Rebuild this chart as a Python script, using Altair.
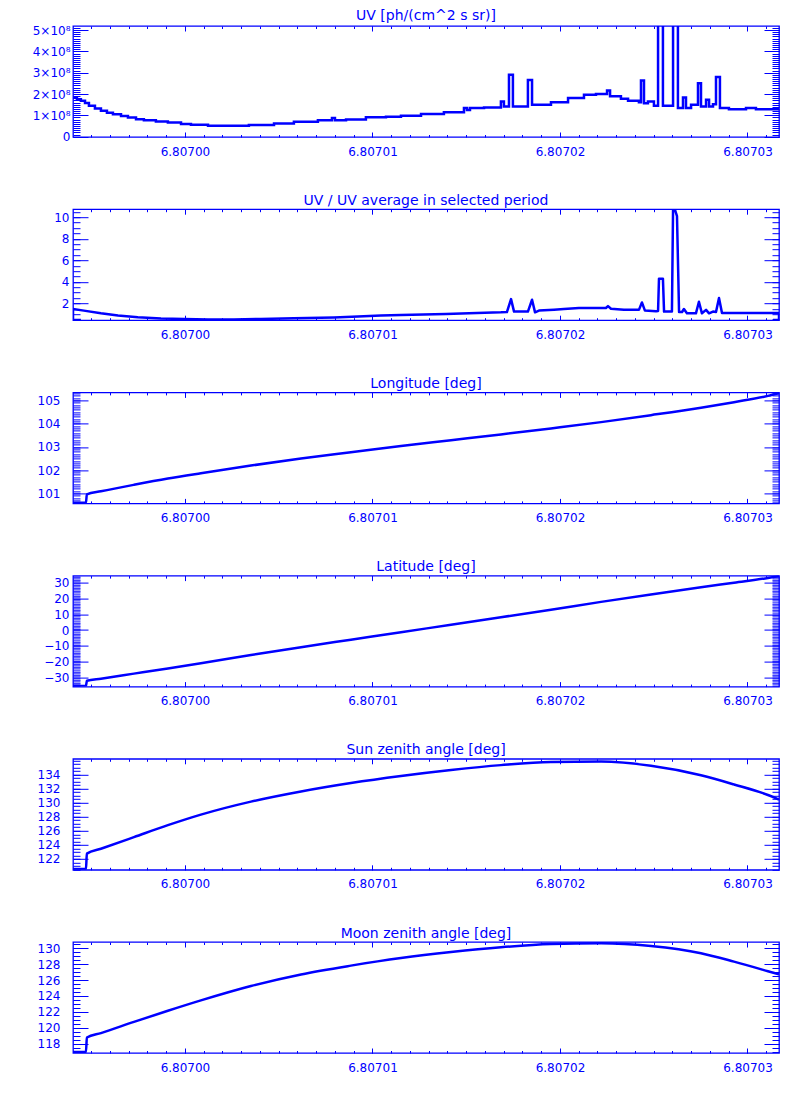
import json
import altair as alt
import pandas as pd

BLUE = "#0000ff"
FONT = "DejaVu Sans"
W, H = 706, 111

# ---------------- data ----------------
x_domain = [6.80699403, 6.80703168]
x_major = [6.80700, 6.80701, 6.80702, 6.80703]
x_minor = [round(6.806995 + k * 1e-6, 7) for k in range(37)]

# UV [ph/(cm^2 s sr)] (step data)
x_uv = [6.80699403, 6.80699424, 6.80699445, 6.80699467, 6.80699488, 6.80699520, 6.80699552,
        6.80699584, 6.80699616, 6.80699659, 6.80699696, 6.80699739, 6.80699781, 6.80699845,
        6.80699909, 6.80699979, 6.80700032, 6.80700123, 6.80700341, 6.80700475, 6.80700581,
        6.80700709, 6.80700784, 6.80700800, 6.80700859, 6.80700965, 6.80701072, 6.80701152,
        6.80701259, 6.80701381, 6.80701488, 6.80701504, 6.80701520, 6.80701595, 6.80701685,
        6.80701701, 6.80701728, 6.80701749, 6.80701829, 6.80701851, 6.80701952, 6.80702043,
        6.80702128, 6.80702192, 6.80702251, 6.80702267, 6.80702325, 6.80702363, 6.80702421,
        6.80702432, 6.80702448, 6.80702469, 6.80702501, 6.80702523, 6.80702549, 6.80702603,
        6.80702629, 6.80702656, 6.80702672, 6.80702699, 6.80702736, 6.80702752, 6.80702779,
        6.80702795, 6.80702816, 6.80702832, 6.80702853, 6.80702901, 6.80702992, 6.80703045,
        6.80703168]
uv = [1.84e8, 1.75e8, 1.68e8, 1.58e8, 1.45e8, 1.32e8, 1.22e8,
      1.12e8, 1.05e8, 0.97e8, 0.90e8, 0.82e8, 0.77e8, 0.71e8,
      0.66e8, 0.60e8, 0.56e8, 0.51e8, 0.55e8, 0.62e8, 0.70e8,
      0.77e8, 0.88e8, 0.77e8, 0.80e8, 0.91e8, 0.93e8, 0.98e8,
      1.06e8, 1.15e8, 1.34e8, 1.25e8, 1.34e8, 1.37e8, 1.65e8,
      1.42e8, 2.90e8, 1.42e8, 2.66e8, 1.50e8, 1.61e8, 1.81e8,
      1.97e8, 2.00e8, 2.17e8, 1.90e8, 1.78e8, 1.68e8, 1.61e8,
      2.64e8, 1.57e8, 1.65e8, 1.45e8, 6.00e8, 1.45e8, 14.0e8,
      1.34e8, 1.84e8, 1.34e8, 1.50e8, 2.50e8, 1.42e8, 1.73e8,
      1.42e8, 1.52e8, 2.80e8, 1.34e8, 1.29e8, 1.34e8, 1.29e8,
      1.29e8]

# UV / UV average in selected period
x_ratio = [6.80699445, 6.80699403, 6.80699403, 6.80699461, 6.80699552, 6.80699643, 6.80699749,
           6.80699872, 6.80699995, 6.80700123, 6.80700261, 6.80700405, 6.80700581, 6.80700795,
           6.80700923, 6.80701045, 6.80701152, 6.80701392, 6.80701515, 6.80701685, 6.80701717,
           6.80701739, 6.80701755, 6.80701829, 6.80701851, 6.80701867, 6.80701888, 6.80701968,
           6.80702021, 6.80702101, 6.80702245, 6.80702256, 6.80702272, 6.80702341, 6.80702421,
           6.80702437, 6.80702453, 6.80702512, 6.80702523, 6.80702528, 6.80702549, 6.80702555,
           6.80702597, 6.80702603, 6.80702613, 6.80702624, 6.80702635, 6.80702651, 6.80702661,
           6.80702677, 6.80702725, 6.80702741, 6.80702757, 6.80702779, 6.80702795, 6.80702816,
           6.80702832, 6.80702848, 6.80702864, 6.80703168, 6.80703168, 6.80703136]
uv_ratio = [0.45, 0.45, 1.48, 1.33, 1.08, 0.87, 0.72,
            0.60, 0.56, 0.50, 0.50, 0.56, 0.62, 0.69,
            0.78, 0.87, 0.93, 1.02, 1.08, 1.17, 1.20,
            2.40, 1.24, 1.24, 2.34, 1.17, 1.33, 1.42,
            1.48, 1.57, 1.57, 1.75, 1.50, 1.42, 1.40,
            2.09, 1.33, 1.27, 1.30, 4.30, 4.30, 1.24,
            1.24, 10.70, 10.70, 10.10, 1.20, 1.20, 1.48,
            1.08, 1.08, 2.15, 1.08, 1.40, 1.08, 1.24,
            1.20, 2.50, 1.10, 1.10, 0.45, 0.45]

# orbit quantities
x_orbit = [6.80699403, 6.80699472, 6.80699477, 6.80699552, 6.80699728, 6.80699909, 6.80700085,
           6.80700352, 6.80700619, 6.80700885, 6.80701152, 6.80701419, 6.80701685, 6.80701952,
           6.80702219, 6.80702485, 6.80702752, 6.80702928, 6.80703109, 6.80703168]
longitude = [100.60, 100.60, 100.96, 101.09, 101.37, 101.64, 101.87, 102.20, 102.50, 102.77,
             103.04, 103.29, 103.54, 103.80, 104.07, 104.37, 104.69, 104.93, 105.20, 105.32]
latitude = [-35.3, -35.3, -32.0, -30.7, -27.5, -24.2, -20.9, -15.8, -10.8, -6.1,
            -1.4, 3.4, 8.1, 12.9, 17.8, 22.5, 27.0, 29.9, 32.9, 34.1]
sun_zenith = [120.55, 120.55, 122.75, 123.45, 125.10, 126.80, 128.30, 130.15, 131.60, 132.80,
              133.80, 134.65, 135.35, 135.80, 135.85, 135.25, 133.90, 132.60, 131.10, 130.45]
moon_zenith = [117.0, 117.0, 118.8, 119.35, 120.75, 122.15, 123.45, 125.25, 126.70, 127.80,
               128.75, 129.50, 130.10, 130.50, 130.60, 130.25, 129.35, 128.30, 127.10, 126.70]

uv_tick_labels = ["0", "1×10⁸", "2×10⁸", "3×10⁸", "4×10⁸", "5×10⁸"]


def frange(a, b, step, nd=6):
    out = []
    k = 0
    while True:
        v = round(a + k * step, nd)
        if v > b + 1e-9:
            break
        out.append(v)
        k += 1
    return out


panels = [
    dict(title="UV [ph/(cm^2 s sr)]", x=x_uv, y=uv, domain=[-1.5e6, 5.19e8],
         major=[0, 1e8, 2e8, 3e8, 4e8, 5e8], minor=frange(0, 5.2e8, 1e7, 0),
         pad=3, interp="step-after",
         expr=json.dumps(uv_tick_labels, ensure_ascii=False) + "[round(datum.value/100000000)]"),
    dict(title="UV / UV average in selected period", x=x_ratio, y=uv_ratio, domain=[0.44, 10.75],
         major=[2, 4, 6, 8, 10], minor=frange(0.5, 10.5, 0.5, 2), pad=4, interp="linear", expr=None),
    dict(title="Longitude [deg]", x=x_orbit, y=longitude, domain=[100.57, 105.35],
         major=[101, 102, 103, 104, 105], minor=frange(100.6, 105.3, 0.1, 2), pad=13,
         interp="monotone", expr=None),
    dict(title="Latitude [deg]", x=x_orbit, y=latitude, domain=[-35.7, 34.4],
         major=[-30, -20, -10, 0, 10, 20, 30], minor=frange(-35, 34, 1, 1), pad=4,
         interp="monotone", expr=None),
    dict(title="Sun zenith angle [deg]", x=x_orbit, y=sun_zenith, domain=[120.45, 136.25],
         major=[122, 124, 126, 128, 130, 132, 134], minor=frange(120.5, 136, 0.5, 2), pad=13,
         interp="monotone", expr=None),
    dict(title="Moon zenith angle [deg]", x=x_orbit, y=moon_zenith, domain=[116.86, 130.76],
         major=[118, 120, 122, 124, 126, 128, 130], minor=frange(117, 130.5, 0.5, 2), pad=13,
         interp="monotone", expr=None),
]


def make_panel(p):
    df = pd.DataFrame({"x": p["x"], "y": p["y"], "i": list(range(len(p["x"])))})
    base = alt.Chart(df)
    xs = alt.Scale(domain=x_domain, nice=False, zero=False)
    ys = alt.Scale(domain=p["domain"], nice=False, zero=False)

    yaxis_kw = dict(orient="left", values=p["major"], ticks=False, tickSize=0, domain=False,
                    labelPadding=p["pad"], minExtent=64, maxExtent=64, title=None, grid=False,
                    labelBaseline="middle", labelColor=BLUE, labelFont=FONT, labelFontSize=12)
    if p["expr"]:
        yaxis_kw["labelExpr"] = p["expr"]

    line = base.mark_line(
        color=BLUE, strokeWidth=2.5, clip=True, interpolate=p["interp"],
        strokeJoin="miter" if p["interp"] == "step-after" else "round",
    ).encode(
        x=alt.X("x:Q", scale=xs,
                axis=alt.Axis(orient="bottom", values=x_major, format=".5f", ticks=False,
                              tickSize=0, domain=False, labelPadding=9, minExtent=28,
                              maxExtent=28, title=None, grid=False, labelColor=BLUE,
                              labelFont=FONT, labelFontSize=12)),
        y=alt.Y("y:Q", scale=ys, axis=alt.Axis(**yaxis_kw)),
        order=alt.Order("i:Q"),
    )

    def tick_layer(xorient, xvals, xsize, yorient, yvals, ysize):
        return base.mark_line(opacity=0, clip=True).encode(
            x=alt.X("x:Q", scale=xs,
                    axis=alt.Axis(orient=xorient, offset=-H, values=xvals, tickSize=xsize,
                                  labels=False, domain=False, grid=False, title=None,
                                  minExtent=0, maxExtent=0, tickColor=BLUE, tickWidth=1)),
            y=alt.Y("y:Q", scale=ys,
                    axis=alt.Axis(orient=yorient, offset=-W, values=yvals, tickSize=ysize,
                                  labels=False, domain=False, grid=False, title=None,
                                  minExtent=0, maxExtent=0, tickColor=BLUE, tickWidth=1)),
            order=alt.Order("i:Q"),
        )

    layers = [
        line,
        tick_layer("top", x_major, 5, "right", p["major"], 15),
        tick_layer("top", x_minor, 2.5, "right", p["minor"], 7),
        tick_layer("bottom", x_major, 5, "left", p["major"], 15),
        tick_layer("bottom", x_minor, 2.5, "left", p["minor"], 7),
    ]
    return alt.layer(*layers).resolve_axis(x="independent", y="independent").properties(
        width=W, height=H,
        title=alt.TitleParams(p["title"], font=FONT, fontSize=14, color=BLUE,
                              fontWeight="normal", offset=1, anchor="middle"),
    )


chart = alt.vconcat(*[make_panel(p) for p in panels], spacing=26.2).properties(
    padding={"left": 0, "top": 0, "right": 0, "bottom": 0},
    background="white",
).configure_view(
    stroke=BLUE, strokeWidth=1.3
).configure_axis(
    labelFont=FONT, labelFontSize=12, labelColor=BLUE, tickColor=BLUE, tickWidth=1, grid=False
)

chart.save("out.html", embed_options={"renderer": "svg", "actions": False})
